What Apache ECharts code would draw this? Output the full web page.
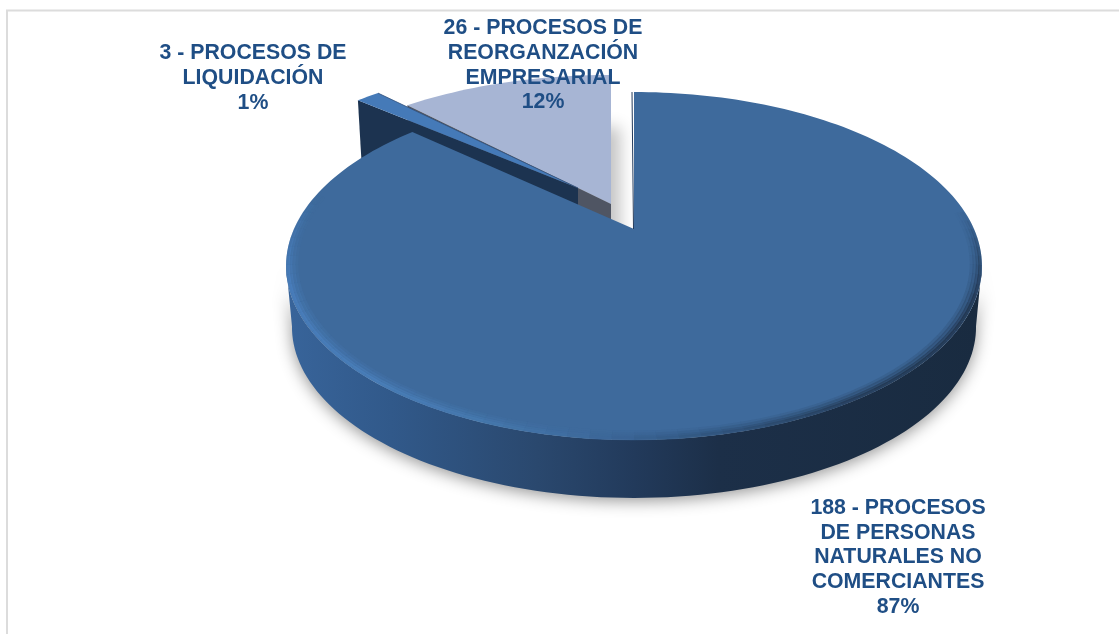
<!DOCTYPE html>
<html>
<head>
<meta charset="utf-8">
<style>html,body{margin:0;padding:0;background:#fff}#c{width:1119px;height:634px}</style>
<script src="https://cdn.jsdelivr.net/npm/echarts@6/dist/echarts.min.js"></script>
</head>
<body>
<div id="c"></div>
<script>
// Data
const categories = ['PROCESOS DE PERSONAS NATURALES NO COMERCIANTES', 'PROCESOS DE LIQUIDACIÓN', 'PROCESOS DE REORGANZACIÓN EMPRESARIAL'];
const values = [188, 3, 26];
const labelLines = [
  ['188 - PROCESOS', 'DE PERSONAS', 'NATURALES NO', 'COMERCIANTES', '87%'],
  ['3 - PROCESOS DE', 'LIQUIDACIÓN', '1%'],
  ['26 - PROCESOS DE', 'REORGANZACIÓN', 'EMPRESARIAL', '12%']
];

// Drawing setup: a perspective projection of the pie disc
const CX = 634, CY = 229, RX = 340, B = 166.1, PERSP = -0.2126, DEPTH = 61.6, BASE_SCALE = 0.983;
const slicePlace = [
  {dx: 0, dy: 0, rx: RX},
  {dx: -56, dy: -41, rx: 354},
  {dx: -23, dy: -25, rx: 354}
];
const labelPlace = [[898, 508], [253, 53.5], [543, 28.5]];
const LINE_H = 24.7;
const total = values.reduce((a, b) => a + b, 0);
const starts = [];
values.reduce((acc, v, i) => { starts[i] = acc; return acc + v / total * 360; }, 0);

function vOffset(dy) { return dy / (B - PERSP * dy); }
function project(deg, place, onApex, base, inset) {
  const t = deg * Math.PI / 180;
  const v0 = vOffset(place.dy);
  const k = inset || 1;
  const u = onApex ? 0 : k * Math.sin(t);
  const v = v0 + (onApex ? 0 : -k * Math.cos(t));
  const d = 1 + PERSP * v;
  const f = base ? BASE_SCALE : 1;
  return [CX + place.dx + f * place.rx * u / d, CY + (base ? DEPTH : 0) + f * B * v / d];
}
function arcPts(a0, a1, place, base) {
  const out = [], n = Math.max(2, Math.ceil(Math.abs(a1 - a0) / 1.5));
  for (let i = 0; i <= n; i++) out.push(project(a0 + (a1 - a0) * i / n, place, false, base));
  return out;
}
const hGrad = (stops) => new echarts.graphic.LinearGradient(287, 0, 983, 0,
  stops.map(s => ({offset: s[0], color: s[1]})), true);
const BEVEL_COLORS = ['#4a80bf', '#4a7fbb', '#467ab0', '#3f6c9f', '#345a86', '#2a4769', '#22364f', '#1f3149'];
const BEVEL_PASSES = [[0.972, 0.16, 4], [0.98, 0.3, 4], [0.988, 0.55, 3.5], [0.995, 0.8, 3.5]];

function renderSlice(params, api) {
  const i = api.value(0), val = api.value(1);
  const a0 = starts[i], a1 = a0 + val / total * 360;
  const p = slicePlace[i];
  const children = [];
  const apex = project(0, p, true, false), apexB = project(0, p, true, true);
  const top = [apex].concat(arcPts(a0, a1, p, false));

  if (i === 0) {
    const sideA = 102, sideB = 258;
    const side = arcPts(sideA, sideB, p, true).concat(arcPts(sideB, sideA, p, false));
    children.push({type: 'polygon', z2: 10, shape: {points: side},
      style: {
        fill: hGrad([[0, '#38649a'], [0.15, '#31598a'], [0.36, '#2a486e'], [0.5, '#223a5b'], [0.62, '#1c2f48'], [1, '#192b40']]),
        shadowColor: 'rgba(0,0,0,0.42)', shadowBlur: 16, shadowOffsetX: 0, shadowOffsetY: 3
      }});
    children.push({type: 'polygon', z2: 11, shape: {points: top}, style: {fill: '#3e6a9c'}});
    // cut edge
    children.push({type: 'line', z2: 12, shape: {x1: apex[0] - 0.5, y1: apex[1], x2: apex[0] - 2, y2: top[1][1]},
      style: {stroke: '#22395a', lineWidth: 1}});
    // soft bevel along the front rim, fading out at both ends
    const from = 84, to = 282, step = 3;
    BEVEL_PASSES.forEach(([inset, alpha, width], pass) => {
      const pts = [];
      for (let a = from; a <= to; a += step) pts.push([a, project(a, p, false, false, inset)]);
      for (let n = 0; n < pts.length - 1; n++) {
        const q0 = pts[n][1], q1 = pts[n + 1][1];
        const tx = Math.min(1, Math.max(0, (q0[0] - 287) / 696));
        const mid = pts[n][0] + step / 2;
        const fade = Math.min(1, (mid - from) / 30, (to - mid) / 30);
        children.push({type: 'line', z2: 12 + pass, shape: {x1: q0[0], y1: q0[1], x2: q1[0], y2: q1[1]},
          style: {stroke: echarts.color.lerp(tx, BEVEL_COLORS), lineWidth: width, opacity: fade * alpha, lineCap: 'butt'}});
      }
    });
  } else {
    const isLiq = i === 1;
    const e = project(a0, p, false, false), eB = project(a0, p, false, true);
    children.push({type: 'polygon', z2: isLiq ? 5 : 3, shape: {points: [apex, e, eB, apexB]},
      style: {fill: isLiq ? '#1c3350' : '#4f5563'}});
    children.push({type: 'polygon', z2: isLiq ? 6 : 2, shape: {points: top},
      style: isLiq ? {fill: '#457ab8'} : {
        fill: '#a7b5d4', shadowColor: 'rgba(0,0,0,0.24)', shadowBlur: 16, shadowOffsetX: 9, shadowOffsetY: 52
      }});
    if (isLiq) {
      const e2 = project(a1, p, false, false);
      children.push({type: 'line', z2: 7, shape: {x1: apex[0], y1: apex[1], x2: e2[0], y2: e2[1]},
        style: {stroke: '#33527c', lineWidth: 0.8}});
    }
  }
  labelLines[i].forEach((t, k) => {
    children.push({type: 'text', z2: 30, style: {
      text: t, x: labelPlace[i][0], y: labelPlace[i][1] + k * LINE_H,
      align: 'center', verticalAlign: 'middle',
      font: 'bold 21.3px "Liberation Sans", Arial, sans-serif', fill: '#1f4e85'
    }});
  });
  return {type: 'group', children};
}

const chart = echarts.init(document.getElementById('c'), null, {renderer: 'canvas'});
chart.setOption({
  animation: false,
  backgroundColor: '#fff',
  graphic: [
    {type: 'line', shape: {x1: 7, y1: 634, x2: 7, y2: 10.5}, style: {stroke: '#dcdcdc', lineWidth: 2}},
    {type: 'line', shape: {x1: 6, y1: 10.5, x2: 1119, y2: 10.5}, style: {stroke: '#dcdcdc', lineWidth: 2}}
  ],
  series: [{
    type: 'custom',
    coordinateSystem: 'none',
    silent: true,
    clip: false,
    renderItem: renderSlice,
    data: values.map((v, i) => ({name: categories[i], value: [i, v]}))
  }]
});
</script>
</body>
</html>
